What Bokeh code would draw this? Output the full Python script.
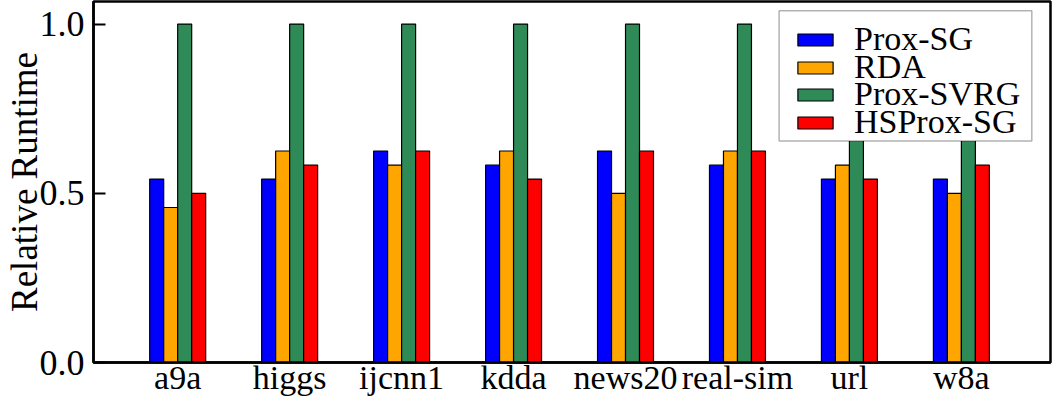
from bokeh.plotting import figure
from bokeh.models import (Range1d, FixedTicker, Legend, LegendItem, BoxAnnotation,
                          ColumnDataSource, NumeralTickFormatter)
from bokeh.embed import file_html
from bokeh.resources import INLINE

# ---- data ----
datasets = ["a9a", "higgs", "ijcnn1", "kdda", "news20", "real-sim", "url", "w8a"]
prox_sg = [0.542, 0.542, 0.625, 0.583, 0.625, 0.583, 0.542, 0.542]
rda = [0.458, 0.625, 0.583, 0.625, 0.500, 0.625, 0.583, 0.500]
prox_svrg = [1.0, 1.0, 1.0, 1.0, 1.0, 1.0, 1.0, 1.0]
hsprox_sg = [0.500, 0.583, 0.625, 0.542, 0.625, 0.625, 0.542, 0.583]
series_names = ["Prox-SG", "RDA", "Prox-SVRG", "HSProx-SG"]
series_values = [prox_sg, rda, prox_svrg, hsprox_sg]
y_ticks = [0.0, 0.5, 1.0]
y_title = "Relative Runtime"

# ---- styles ----
colors = ["#0000ff", "#ffa500", "#2e8b57", "#ff0000"]
offsets = [-0.1875, -0.0625, 0.0625, 0.1875]
bar_w = 0.125
FONT = "serif"

p = figure(width=1053, height=398,
           x_range=Range1d(-0.752, 7.796), y_range=Range1d(0, 1.0667),
           output_backend="svg", toolbar_location=None,
           min_border_left=84, min_border_right=3,
           min_border_top=1, min_border_bottom=36)

xs = list(range(len(datasets)))
renderers = []
for name, vals, col, off in zip(series_names, series_values, colors, offsets):
    src = ColumnDataSource(dict(x=[i + off for i in xs], top=vals))
    r = p.vbar(x="x", top="top", width=bar_w, bottom=0, source=src,
               fill_color=col, line_color="black", line_width=1.2)
    renderers.append((name, r))

p.xgrid.visible = False
p.ygrid.visible = False
p.background_fill_color = "white"
p.border_fill_color = "white"
p.outline_line_color = "black"
p.outline_line_width = 2.5

# y axis
p.yaxis.ticker = FixedTicker(ticks=y_ticks)
p.yaxis.formatter = NumeralTickFormatter(format="0.0")
p.yaxis.major_tick_in = 12
p.yaxis.major_tick_out = 0
p.yaxis.major_tick_line_width = 2
p.yaxis.minor_tick_line_color = None
p.yaxis.axis_line_width = 2.5
p.yaxis.major_label_text_font = FONT
p.yaxis.major_label_text_font_size = "36px"
p.yaxis.major_label_text_color = "black"
p.yaxis.major_label_standoff = 9
p.yaxis.axis_label = y_title
p.yaxis.axis_label_text_font = FONT
p.yaxis.axis_label_text_font_size = "37px"
p.yaxis.axis_label_text_font_style = "normal"
p.yaxis.axis_label_text_color = "black"
p.yaxis.axis_label_standoff = -8

# x axis
p.xaxis.ticker = FixedTicker(ticks=xs)
p.xaxis.major_label_overrides = {i: d for i, d in enumerate(datasets)}
p.xaxis.major_tick_line_color = None
p.xaxis.major_tick_in = 0
p.xaxis.major_tick_out = 0
p.xaxis.minor_tick_line_color = None
p.xaxis.axis_line_width = 2.5
p.xaxis.major_label_text_font = FONT
p.xaxis.major_label_text_font_size = "34px"
p.xaxis.major_label_text_color = "black"
p.xaxis.major_label_standoff = -4

# legend: white framed box with one row per series
legend_box = BoxAnnotation(left=5.372, right=7.629, top=1.039, bottom=0.6545,
                           fill_color="white", fill_alpha=1.0,
                           line_color="black", line_width=1.5)
p.add_layout(legend_box)
row_y = [300, 272, 245, 217]
for (name, r), yloc in zip(renderers, row_y):
    lg = Legend(items=[LegendItem(label=name, renderers=[r])], location=(700, yloc))
    lg.border_line_color = None
    lg.background_fill_alpha = 0.0
    lg.padding = 0
    lg.spacing = 0
    lg.margin = 0
    lg.glyph_width = 44
    lg.glyph_height = 15
    lg.label_standoff = 17
    lg.label_height = 46
    lg.label_text_font = FONT
    lg.label_text_font_size = "34px"
    lg.label_text_color = "black"
    p.add_layout(lg)

open("out.html", "w").write(file_html(p, INLINE))
